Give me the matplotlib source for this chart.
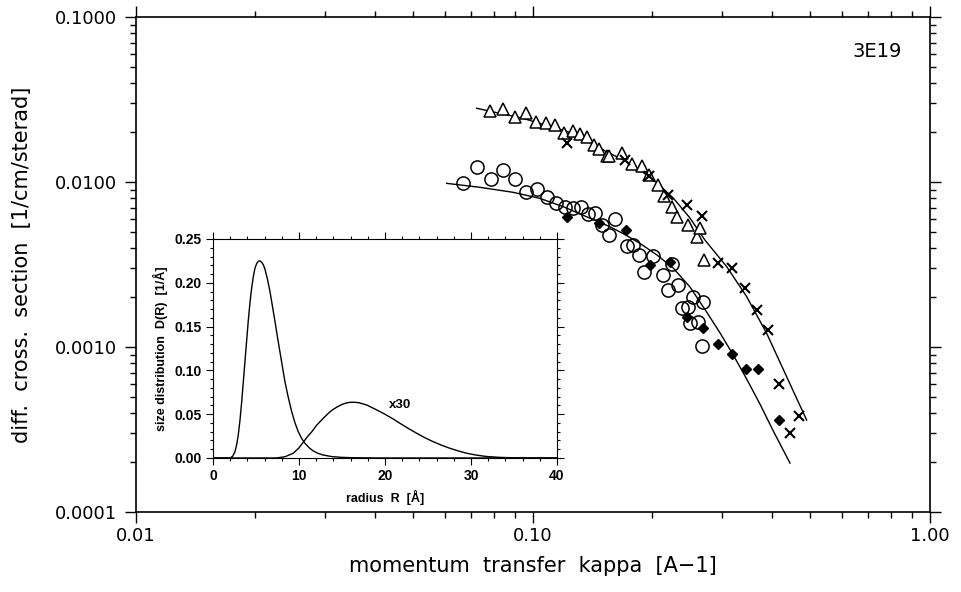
import matplotlib
matplotlib.use('Agg')
import matplotlib.pyplot as plt
from matplotlib.ticker import FixedLocator, MultipleLocator, LogLocator, NullFormatter

# --- main plot data (kappa [1/A], cross section [1/cm/sterad]) ---
tri_k = [0.0779, 0.0839, 0.0903, 0.0960, 0.1018, 0.1078, 0.1136, 0.1197, 0.1259,
         0.1313, 0.1370, 0.1425, 0.1469, 0.1533, 0.1550, 0.1673, 0.1773, 0.1879,
         0.1963, 0.2069, 0.2138, 0.2236, 0.2310, 0.2461, 0.2584, 0.2634, 0.2695]
tri_s = [0.0270, 0.0276, 0.0249, 0.0263, 0.0232, 0.0229, 0.0221, 0.0199, 0.0205,
         0.0195, 0.0187, 0.0168, 0.0158, 0.0144, 0.0143, 0.0149, 0.0129, 0.0125,
         0.0110, 0.00959, 0.00823, 0.00709, 0.00616, 0.00549, 0.00466, 0.00526, 0.00337]

crs_k = [0.1216, 0.1705, 0.1963, 0.2192, 0.2439, 0.2673, 0.293, 0.318, 0.342,
         0.366, 0.391, 0.4166, 0.4686, 0.444]
crs_s = [0.0173, 0.0136, 0.0109, 0.00834, 0.00725, 0.00620, 0.00324, 0.00300, 0.00228,
         0.00168, 0.00127, 0.000594, 0.000382, 0.000302]

cir_k = [0.0665, 0.0724, 0.0783, 0.0842, 0.0901, 0.0960, 0.1022, 0.1083, 0.1143,
         0.1204, 0.1264, 0.1319, 0.1378, 0.1433, 0.1489, 0.1557, 0.1609, 0.1722,
         0.1786, 0.1849, 0.2009, 0.1904, 0.2126, 0.2239, 0.2192, 0.2323, 0.2533,
         0.2685, 0.2369, 0.2461, 0.2486, 0.2608, 0.2661]
cir_s = [0.00990, 0.01238, 0.01038, 0.01182, 0.01038, 0.00874, 0.00903, 0.00815, 0.00743,
         0.00709, 0.00693, 0.00709, 0.00640, 0.00646, 0.00549, 0.00477, 0.00597, 0.00409,
         0.00415, 0.00361, 0.00356, 0.00286, 0.00273, 0.00318, 0.00222, 0.00238, 0.00202,
         0.00188, 0.00172, 0.00175, 0.00139, 0.00142, 0.00101]

dia_k = [0.1218, 0.1466, 0.1713, 0.1971, 0.2214, 0.2439, 0.2685, 0.293, 0.3177,
         0.3434, 0.368, 0.4174]
dia_s = [0.00616, 0.00564, 0.00510, 0.00314, 0.00328, 0.00153, 0.00130, 0.00104, 0.000907,
         0.000736, 0.000736, 0.000361]

fit1_k = [0.0721, 0.0945, 0.1264, 0.1533, 0.170, 0.186, 0.205, 0.2256, 0.248, 0.2711,
          0.3076, 0.3454, 0.3879, 0.4355, 0.4891]
fit1_s = [0.0280, 0.0243, 0.0197, 0.01526, 0.0135, 0.01182, 0.0099, 0.0080, 0.0061, 0.00445,
          0.00307, 0.00202, 0.00121, 0.000661, 0.000361]

fit2_k = [0.0606, 0.0735, 0.0892, 0.1041, 0.1192, 0.1365, 0.1563, 0.170, 0.186, 0.205,
          0.2256, 0.2486, 0.2738, 0.2958, 0.3196, 0.3454, 0.3731, 0.403, 0.444]
fit2_s = [0.00982, 0.00929, 0.00866, 0.00796, 0.00709, 0.00616, 0.00536, 0.00482, 0.00425,
          0.00362, 0.00301, 0.00231, 0.00163, 0.00122, 0.000894, 0.000640, 0.000451,
          0.000310, 0.000198]

# --- inset data: size distribution D(R) ---
r1 = [0, 2.0, 2.3, 2.56, 2.75, 2.94, 3.14, 3.34, 3.53, 3.72, 3.91, 4.10, 4.30, 4.50,
      4.69, 4.88, 5.08, 5.27, 5.47, 5.66, 5.86, 6.05, 6.34, 6.63, 6.92, 7.21, 7.50,
      7.79, 8.08, 8.37, 8.76, 9.15, 9.54, 9.92, 10.3, 10.7, 11.2, 11.66, 12.2, 12.8,
      13.8, 14.8, 16.0, 18.0, 20.0, 40.0]
d1 = [0, 0, 0.002, 0.0072, 0.015, 0.026, 0.043, 0.064, 0.087, 0.110, 0.133, 0.156,
      0.177, 0.194, 0.207, 0.2165, 0.222, 0.2245, 0.225, 0.2235, 0.2205, 0.2155, 0.204,
      0.190, 0.173, 0.156, 0.138, 0.121, 0.104, 0.087, 0.069, 0.053, 0.040, 0.030,
      0.0225, 0.0167, 0.0115, 0.008, 0.0053, 0.0034, 0.0016, 0.0008, 0.0003, 0.0001, 0, 0]
r2 = [0, 7.4, 8.4, 9.34, 10.0, 10.5, 11.0, 11.5, 12.06, 12.5, 13.0, 13.5, 14.0, 14.5,
      15.0, 15.5, 16.0, 16.5, 17.0, 17.87, 18.8, 19.8, 20.8, 21.74, 22.7, 23.69, 24.6,
      25.6, 26.6, 27.56, 28.5, 29.5, 30.6, 31.8, 33.3, 35.0, 37.0, 40.0]
d2 = [0, 0, 0.0015, 0.0054, 0.0115, 0.018, 0.0245, 0.030, 0.0375, 0.042, 0.047, 0.0518,
      0.0556, 0.0586, 0.0611, 0.0628, 0.0636, 0.0636, 0.063, 0.0605, 0.056, 0.051, 0.0454,
      0.0396, 0.0338, 0.0282, 0.0233, 0.0186, 0.0145, 0.011, 0.0081, 0.0054, 0.0033,
      0.0017, 0.0007, 0.0002, 0, 0]

fig = plt.figure(figsize=(9.61, 5.92), dpi=100)
ax = fig.add_axes([0.1415, 0.1351, 0.8262, 0.8361])

ax.plot(fit1_k, fit1_s, color='black', lw=1.0)
ax.plot(fit2_k, fit2_s, color='black', lw=1.0)
ax.plot(tri_k, tri_s, ls='none', marker='^', ms=8.5, mfc='white', mec='black', mew=1.1)
ax.plot(cir_k, cir_s, ls='none', marker='o', ms=9.5, mfc='none', mec='black', mew=1.1)
ax.plot(crs_k, crs_s, ls='none', marker='x', ms=7, mec='black', mew=1.5)
ax.plot(dia_k, dia_s, ls='none', marker='D', ms=5.5, mfc='black', mec='black')

ax.set_xscale('log')
ax.set_yscale('log')
ax.set_xlim(0.01, 1.0)
ax.set_ylim(0.0001, 0.1)
ax.xaxis.set_major_locator(FixedLocator([0.01, 0.1, 1.0]))
ax.set_xticklabels(['0.01', '0.10', '1.00'])
ax.yaxis.set_major_locator(FixedLocator([0.0001, 0.001, 0.01, 0.1]))
ax.set_yticklabels(['0.0001', '0.0010', '0.0100', '0.1000'])
ax.xaxis.set_minor_locator(LogLocator(base=10, subs=range(2, 10)))
ax.yaxis.set_minor_locator(LogLocator(base=10, subs=range(2, 10)))
ax.xaxis.set_minor_formatter(NullFormatter())
ax.yaxis.set_minor_formatter(NullFormatter())
ax.tick_params(which='both', direction='out', top=True, right=True, labelsize=13, width=1.0)
ax.tick_params(which='major', length=8, pad=6)
ax.tick_params(axis='x', which='major', pad=3)
ax.tick_params(which='minor', length=4.5)
for s in ax.spines.values():
    s.set_linewidth(1.2)

ax.set_xlabel('momentum  transfer  kappa  [A\u22121]', fontsize=15, labelpad=8)
ax.set_ylabel('diff.  cross.  section  [1/cm/sterad]', fontsize=15, labelpad=16)
ax.text(0.965, 0.93, '3E19', transform=ax.transAxes, ha='right', va='center', fontsize=14)

# inset
ins = fig.add_axes([0.2216, 0.2264, 0.3580, 0.3699])
ins.plot(r1, d1, color='black', lw=1.0)
ins.plot(r2, d2, color='black', lw=1.0)
ins.set_xlim(0, 40)
ins.set_ylim(0, 0.25)
ins.xaxis.set_major_locator(MultipleLocator(10))
ins.xaxis.set_minor_locator(MultipleLocator(2))
ins.yaxis.set_major_locator(MultipleLocator(0.05))
ins.yaxis.set_minor_locator(MultipleLocator(0.01))
ins.yaxis.set_major_formatter(plt.FuncFormatter(lambda v, p: '%.2f' % v))
ins.tick_params(which='both', direction='out', top=True, right=True, width=0.8)
ins.tick_params(which='major', length=5, pad=3)
ins.tick_params(which='minor', length=2.5)
for lab in ins.get_xticklabels() + ins.get_yticklabels():
    lab.set_family('Liberation Sans')
    lab.set_fontweight('bold')
    lab.set_fontsize(10)
ins.set_xlabel('radius  R  [\u00c5]', family='Liberation Sans', fontweight='bold', fontsize=9, labelpad=5)
ins.set_ylabel('size distribution  D(R)  [1/\u00c5]', family='Liberation Sans', fontweight='bold',
               fontsize=9, labelpad=5)
ins.text(20.5, 0.057, 'x30', family='Liberation Sans', fontweight='bold', fontsize=9.5)

fig.savefig('out.png', dpi=100)
